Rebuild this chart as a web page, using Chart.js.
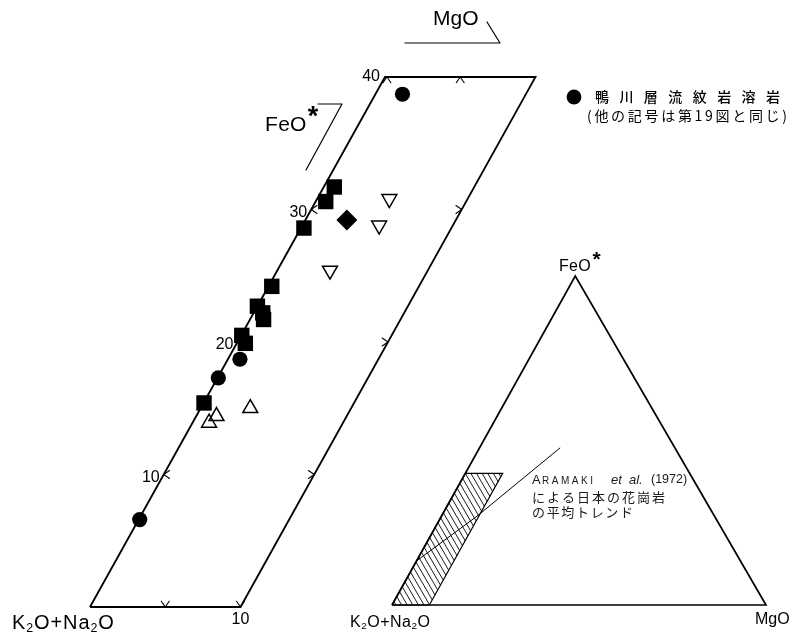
<!DOCTYPE html>
<html lang="ja">
<head>
<meta charset="utf-8">
<title>FeO*–MgO–(K2O+Na2O) 図</title>
<script src="https://cdn.jsdelivr.net/npm/chart.js@4.4.1/dist/chart.umd.min.js"></script>
<style>
  html, body { margin: 0; padding: 0; background: #fff; }
  canvas { display: block; }
</style>
</head>
<body>
<canvas id="afm" width="793" height="637"></canvas>
<script>
// ---- values (wt%): MgO and FeO* of each sample ----
// 鴨川層流紋岩溶岩 (filled circles)
const rhyoliteMgO = [1.8, 0.8, 0.05, 0.07];
const rhyoliteFeO = [38.7, 18.7, 17.3, 6.6];
// other symbols (same as Fig. 19)
const squareMgO = [0.7, 0.67, 0.2, 0.22, 0.0, 0.6, 0.9, 0.04, 0.57, 0.03];
const squareFeO = [31.7, 30.6, 28.6, 24.2, 22.7, 22.2, 21.7, 20.5, 19.9, 15.4];
const diamondMgO = [2.76];
const diamondFeO = [29.2];
const downTriMgO = [4.8, 5.1, 3.5];
const downTriFeO = [30.8, 28.8, 25.4];
const upTriMgO = [3.3, 1.35, 1.1];
const upTriFeO = [15.0, 14.4, 13.9];

// enlarged field of the diagram: MgO 0-10, FeO* 0-40
const fieldMgO = [0, 10, 10, 0, 0];
const fieldFeO = [0, 0, 40, 40, 0];
const feoTicks = [10, 20, 30, 40];
const mgoTicks = [0, 5, 10];

// small key triangle and the ARAMAKI et al. (1972) granite trend
const triMgO = [0, 100, 0, 0];
const triFeO = [0, 0, 100, 0];
const trendMgO = [0, 9.5];
const trendFeO = [13.4, 27.0];

// ---- geometry ----
const W = 793, H = 637;
const SKEW = 0.49;                 // apex offset of the triangle along its base
const MAIN = { ox: 90, oy: 607, sx: 15.05, sy: 13.25 };
const INSET = { ox: 392, oy: 605, sx: 3.74, sy: 3.29 };
const SANS = '"Liberation Sans", Arial, sans-serif';
const CJK = '"Noto Sans CJK JP", sans-serif';

const toXY = (mgo, feo) => mgo.map((m, i) => ({ x: m + SKEW * feo[i], y: feo[i] }));

function axisRange(o) {
  return {
    x: { min: -o.ox / o.sx, max: (W - o.ox) / o.sx },
    y: { min: -(H - o.oy) / o.sy, max: o.oy / o.sy }
  };
}
const mainR = axisRange(MAIN), insetR = axisRange(INSET);

function pix(chart, m, f, inset) {
  const xs = chart.scales[inset ? 'x2' : 'x'];
  const ys = chart.scales[inset ? 'y2' : 'y'];
  return [xs.getPixelForValue(m + SKEW * f), ys.getPixelForValue(f)];
}

// ---- text helpers ----
function spread(ctx, text, x, y, width) {
  const chars = Array.from(text);
  const ws = chars.map(c => ctx.measureText(c).width);
  const sum = ws.reduce((a, b) => a + b, 0);
  const gap = chars.length > 1 ? (width - sum) / (chars.length - 1) : 0;
  ctx.textAlign = 'left';
  let cx = x;
  chars.forEach((c, i) => { ctx.fillText(c, cx, y); cx += ws[i] + gap; });
}

// parts: [text, isSubscript]
function formula(ctx, parts, x, y, size, align, track) {
  const fontFor = sub => (sub ? size * 0.62 : size) + 'px ' + SANS;
  const glyphs = [];
  parts.forEach(([t, sub]) => {
    ctx.font = fontFor(sub);
    Array.from(t).forEach(c => glyphs.push({ c, sub, w: ctx.measureText(c).width }));
  });
  const total = glyphs.reduce((a, g) => a + g.w, 0) + track * (glyphs.length - 1);
  let cx = align === 'center' ? x - total / 2 : align === 'right' ? x - total : x;
  ctx.textAlign = 'left';
  ctx.textBaseline = 'alphabetic';
  glyphs.forEach(g => {
    ctx.font = fontFor(g.sub);
    ctx.fillText(g.c, cx, g.sub ? y + size * 0.14 : y);
    cx += g.w + track;
  });
  return cx;
}

function chevron(ctx, x, y, dir, len, half) {
  ctx.beginPath();
  ctx.moveTo(x + len * Math.cos(dir - half), y + len * Math.sin(dir - half));
  ctx.lineTo(x, y);
  ctx.lineTo(x + len * Math.cos(dir + half), y + len * Math.sin(dir + half));
  ctx.stroke();
}

function polyline(ctx, pts) {
  ctx.beginPath();
  pts.forEach(([x, y], i) => (i ? ctx.lineTo(x, y) : ctx.moveTo(x, y)));
  ctx.stroke();
}

// ---- hatching of the enlarged field inside the key triangle ----
const hatchPlugin = {
  id: 'hatch',
  beforeDatasetsDraw(chart) {
    const ctx = chart.ctx;
    const corners = fieldMgO.slice(0, 4).map((m, i) => pix(chart, m, fieldFeO[i], true));
    ctx.save();
    ctx.beginPath();
    corners.forEach(([x, y], i) => (i ? ctx.lineTo(x, y) : ctx.moveTo(x, y)));
    ctx.closePath();
    ctx.clip();
    const [ax, ay] = pix(chart, 0, 100, true);
    const [bx, by] = pix(chart, 100, 0, true);
    const k = (bx - ax) / (by - ay);
    const ys = corners.map(c => c[1]), xs = corners.map(c => c[0]);
    const top = Math.min(...ys) - 2, bot = Math.max(...ys) + 2;
    const left = Math.min(...xs) - k * (bot - top) - 6, right = Math.max(...xs) + 6;
    ctx.strokeStyle = '#000';
    ctx.lineWidth = 0.9;
    for (let s = left; s <= right; s += 5.6) {
      ctx.beginPath();
      ctx.moveTo(s, top);
      ctx.lineTo(s + k * (bot - top), bot);
      ctx.stroke();
    }
    ctx.restore();
  }
};

// ---- ticks, labels, key and notes ----
const labelPlugin = {
  id: 'labels',
  afterDatasetsDraw(chart) {
    const ctx = chart.ctx;
    ctx.save();
    ctx.strokeStyle = '#000';
    ctx.fillStyle = '#000';
    ctx.lineWidth = 1.1;
    ctx.lineCap = 'round';
    ctx.lineJoin = 'round';

    // chevron ticks on the four edges of the enlarged field
    const L = 7, A = 0.6;
    feoTicks.filter(f => f < 40).forEach(f => {
      const [lx, ly] = pix(chart, 0, f, false);
      chevron(ctx, lx, ly, 0, L, A);
      const [rx, ry] = pix(chart, 10, f, false);
      chevron(ctx, rx, ry, Math.PI, L, A);
    });
    mgoTicks.forEach(m => {
      if (m > 0) {
        const [bx, by] = pix(chart, m, 0, false);
        chevron(ctx, bx, by, -Math.PI / 2, L, A);
      }
      if (m < 10) {
        const [tx, ty] = pix(chart, m, 40, false);
        chevron(ctx, tx + (m === 0 ? 2 : 0), ty, Math.PI / 2, L, A);
      }
    });

    // FeO* tick labels on the left edge, MgO label at the bottom
    ctx.font = '16px ' + SANS;
    ctx.textBaseline = 'middle';
    ctx.textAlign = 'right';
    feoTicks.forEach(f => {
      const [x, y] = pix(chart, 0, f, false);
      ctx.fillText(String(f), x - (f === 40 ? 5 : 4), y + (f === 40 ? 0 : 3));
    });
    ctx.textAlign = 'center';
    const [b10x, b10y] = pix(chart, 10, 0, false);
    ctx.fillText(String(mgoTicks[2]), b10x, b10y + 13);

    // direction brackets for MgO and FeO*
    ctx.lineWidth = 1.2;
    polyline(ctx, [[405, 43], [500, 43], [487, 22]]);
    polyline(ctx, [[318, 104], [342, 104], [306, 170]]);
    ctx.textAlign = 'left';
    ctx.textBaseline = 'alphabetic';
    ctx.font = '21px ' + SANS;
    ctx.fillText('MgO', 433, 25);
    let e = formula(ctx, [['FeO', false]], 265, 131, 21, 'left', 0.3);
    ctx.font = 'bold 27px ' + SANS;
    ctx.fillText('*', e + 1, 125);

    // apex label of the enlarged field
    formula(ctx, [['K', false], ['2', true], ['O+Na', false], ['2', true], ['O', false]], 12, 629, 20, 'left', 0.9);

    // key triangle labels
    formula(ctx, [['K', false], ['2', true], ['O+Na', false], ['2', true], ['O', false]], 390, 627, 16, 'center', 0.5);
    ctx.font = '16px ' + SANS;
    ctx.textAlign = 'left';
    ctx.fillText('MgO', 755, 624);
    e = formula(ctx, [['FeO', false]], 559, 271, 16, 'left', 0.3);
    ctx.font = 'bold 21px ' + SANS;
    ctx.fillText('*', e + 1.5, 266);

    // leader from the trend to its note
    ctx.lineWidth = 1;
    const n = trendMgO.length - 1;
    polyline(ctx, [pix(chart, trendMgO[n], trendFeO[n], true), pix(chart, 21.5, 47.7, true)]);

    // note: ARAMAKI et al. (1972) による日本の花崗岩の平均トレンド
    ctx.fillStyle = '#1a1a1a';
    ctx.textBaseline = 'middle';
    ctx.font = '13px ' + SANS;
    ctx.fillText('A', 532, 480);
    ctx.font = '10px ' + SANS;
    spread(ctx, 'RAMAKI', 542, 481, 51);
    ctx.font = 'italic 13px ' + SANS;
    ctx.fillText('et', 611, 480);
    ctx.fillText('al.', 629, 480);
    ctx.font = '12.5px ' + SANS;
    ctx.fillText('(1972)', 651, 480);
    ctx.font = '13px ' + CJK;
    spread(ctx, 'による日本の花崗岩', 532, 497, 133);
    spread(ctx, 'の平均トレンド', 532, 512, 101);

    // key of the filled circles
    ctx.fillStyle = '#000';
    ctx.beginPath();
    ctx.arc(574, 97, 7.4, 0, Math.PI * 2);
    ctx.fill();
    ctx.font = '500 14px ' + CJK;
    ctx.textBaseline = 'middle';
    spread(ctx, '鴨川層流紋岩溶岩', 595, 97, 185);
    ctx.font = '14px ' + CJK;
    spread(ctx, '(他の記号は第19図と同じ)', 587, 116, 200);

    ctx.restore();
  }
};

const onMain = { xAxisID: 'x', yAxisID: 'y', clip: false };
const onInset = { xAxisID: 'x2', yAxisID: 'y2', clip: false };
const frameStyle = { showLine: true, pointRadius: 0, borderColor: '#000', fill: false, tension: 0, borderJoinStyle: 'miter' };

new Chart(document.getElementById('afm'), {
  type: 'scatter',
  data: {
    datasets: [
      { label: '鴨川層流紋岩溶岩', data: toXY(rhyoliteMgO, rhyoliteFeO), pointStyle: 'circle', pointRadius: 7.6,
        backgroundColor: '#000', borderColor: '#000', borderWidth: 0, order: 0, ...onMain },
      { label: 'square', data: toXY(squareMgO, squareFeO), pointStyle: 'rect', pointRadius: 10.9,
        backgroundColor: '#000', borderColor: '#000', borderWidth: 0, order: 1, ...onMain },
      { label: 'diamond', data: toXY(diamondMgO, diamondFeO), pointStyle: 'rectRot', pointRadius: 10.5,
        backgroundColor: '#000', borderColor: '#000', borderWidth: 0, order: 1, ...onMain },
      { label: 'open down-triangle', data: toXY(downTriMgO, downTriFeO), pointStyle: 'triangle', pointRotation: 180,
        pointRadius: 8.6, backgroundColor: 'rgba(0,0,0,0)', borderColor: '#000', borderWidth: 1.5, order: 1, ...onMain },
      { label: 'open up-triangle', data: toXY(upTriMgO, upTriFeO), pointStyle: 'triangle',
        pointRadius: 8.6, backgroundColor: 'rgba(0,0,0,0)', borderColor: '#000', borderWidth: 1.5, order: 1, ...onMain },
      { label: 'field', data: toXY(fieldMgO, fieldFeO), borderWidth: 1.8, order: 5, ...frameStyle, ...onMain },
      { label: 'key triangle', data: toXY(triMgO, triFeO), borderWidth: 1.7, order: 5, ...frameStyle, ...onInset },
      { label: 'key field', data: toXY(fieldMgO, fieldFeO), borderWidth: 1.2, order: 5, ...frameStyle, ...onInset },
      { label: 'ARAMAKI et al. (1972)', data: toXY(trendMgO, trendFeO), borderWidth: 1, order: 5, ...frameStyle, ...onInset }
    ]
  },
  options: {
    responsive: false,
    animation: false,
    events: [],
    layout: { padding: 0, autoPadding: false },
    plugins: { legend: { display: false }, tooltip: { enabled: false }, title: { display: false } },
    scales: {
      x: { type: 'linear', display: false, bounds: 'data', min: mainR.x.min, max: mainR.x.max },
      y: { type: 'linear', display: false, bounds: 'data', min: mainR.y.min, max: mainR.y.max },
      x2: { type: 'linear', axis: 'x', display: false, bounds: 'data', min: insetR.x.min, max: insetR.x.max },
      y2: { type: 'linear', axis: 'y', display: false, bounds: 'data', min: insetR.y.min, max: insetR.y.max }
    }
  },
  plugins: [hatchPlugin, labelPlugin]
});
</script>
</body>
</html>
